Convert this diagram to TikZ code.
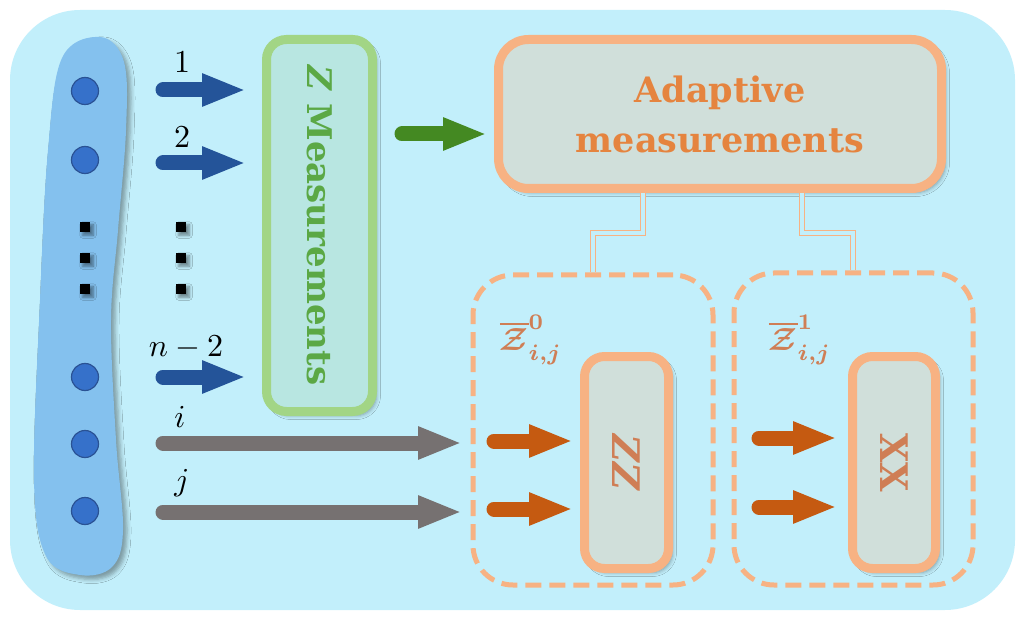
\documentclass[tikz,border=0pt]{standalone}
\usepackage{fontspec}
\usepackage{graphicx}
\usetikzlibrary{arrows.meta,shadows.blur}
\newfontfamily\dvs{DejaVu Serif}
\definecolor{bgc}{HTML}{C2EFFB}
\definecolor{blobc}{HTML}{84C1EE}
\definecolor{dotc}{HTML}{3671CA}
\definecolor{dotb}{HTML}{2A5294}
\definecolor{bluearr}{HTML}{245499}
\definecolor{grayarr}{HTML}{767171}
\definecolor{greenarr}{HTML}{448922}
\definecolor{greenb}{HTML}{A2D585}
\definecolor{greenf}{HTML}{B8E6E1}
\definecolor{greent}{HTML}{5BA845}
\definecolor{orb}{HTML}{F7B283}
\definecolor{orf}{HTML}{D0DFDA}
\definecolor{ort}{HTML}{E5843F}
\definecolor{orarr}{HTML}{C55A11}
\definecolor{lab}{HTML}{CF7E55}
\begin{document}
\begin{tikzpicture}[x=1pt,y=-1pt,
  shd/.style={blur shadow={shadow xshift=4pt,shadow yshift=-4pt,shadow blur radius=4pt,shadow opacity=35}},
  dotn/.style={circle,minimum size=27pt,inner sep=0pt,fill=dotc,draw=dotb,line width=1.2pt},
  sq/.style={rectangle,minimum size=10.5pt,inner sep=0pt,fill=black,blur shadow={shadow xshift=3pt,shadow yshift=-3pt,shadow blur radius=3pt,shadow opacity=45}},
  fat/.style={line width=15pt,line cap=round,-{Triangle[length=44pt,width=30pt]}},
  box/.style={rectangle,rounded corners=20pt,inner sep=0pt,line width=9pt,draw=orb,fill=orf,shd},
  dbox/.style={rectangle,rounded corners=40pt,inner sep=0pt,line width=5pt,draw=orb,dash pattern=on 16pt off 8pt},
  conn/.style={draw=orb,line width=1.6pt,double=bgc,double distance=3.5pt},
  zlab/.style={text=lab}
]
\useasboundingbox (0,0) rectangle (1025,620);
\fill[bgc,rounded corners=70pt] (10,10) rectangle (1015,610);
% blob
\fill[blobc,shd] plot[smooth cycle,tension=0.6] coordinates {(100,37) (124,62) (126,130) (118,230) (111,320) (116,440) (123,530) (112,567) (80,575) (46,556) (34,480) (40,300) (48,150) (62,58)};
% dots
\node[dotn] (d1) at (85,91) {};
\node[dotn] (d2) at (85,160) {};
\node[dotn] (d3) at (85,377) {};
\node[dotn] (d4) at (85,444) {};
\node[dotn] (d5) at (85,511) {};
% squares
\node[sq] (s1) at (85,227) {};
\node[sq] (s2) at (85,258) {};
\node[sq] (s3) at (85,289) {};
\node[sq] (s4) at (181,227) {};
\node[sq] (s5) at (181,258) {};
\node[sq] (s6) at (181,289) {};
% boxes
\node[dbox,minimum width=240pt,minimum height=310pt] (dl) at (593,430) {};
\node[dbox,minimum width=239pt,minimum height=312pt] (dr) at (853.5,429) {};
\node[box,rounded corners=30pt,minimum width=443pt,minimum height=149pt] (ad) at (720,114) {};
\draw[conn] (ad.south -| 643,0) -- ++(0,40) -| (dl.north -| 593,0);
\draw[conn] (ad.south -| 802,0) -- ++(0,40) -| (dr.north -| 853,0);
\node[box,draw=greenb,fill=greenf,minimum width=106pt,minimum height=372pt] (gb) at (319.5,225.5) {};
\node[box,minimum width=84pt,minimum height=212pt] (zz) at (626.5,462.5) {};
\node[box,minimum width=83pt,minimum height=212pt] (xx) at (894,462.5) {};
% texts
\node[rotate=-90,text=greent,font=\dvs\bfseries\fontsize{34}{38}\selectfont] (gt) at (gb.center) {\textit{Z} Measurements};
\node[text=ort,align=center,font=\dvs\bfseries\fontsize{35}{50}\selectfont] (at) at (ad.center) {Adaptive\\measurements};
\node[rotate=-90,text=lab,font=\dvs\bfseries\itshape\fontsize{38}{40}\selectfont] (zzt) at (zz.center) {ZZ};
\node[rotate=-90,text=lab,font=\dvs\bfseries\fontsize{38}{40}\selectfont] (xxt) at (xx.center) {XX};
\node[zlab] (z0) at (531,340) {\scalebox{3.2}{\boldmath$\overline{\mathcal{Z}}^{\mathbf{0}}_{i,j}$}};
\node[zlab] (z1) at (800,340) {\scalebox{3.2}{\boldmath$\overline{\mathcal{Z}}^{\mathbf{1}}_{i,j}$}};
% arrow coordinates
\coordinate (b1s) at (163,90); \coordinate (b1e) at (246,90);
\coordinate (b2s) at (163,163); \coordinate (b2e) at (246,163);
\coordinate (b3s) at (163,377); \coordinate (b3e) at (246,377);
\coordinate (g1s) at (163,443); \coordinate (g1e) at (462,443);
\coordinate (g2s) at (163,512); \coordinate (g2e) at (462,512);
\coordinate (grs) at (402,134); \coordinate (gre) at (487,134);
\coordinate (o1s) at (494,441); \coordinate (o1e) at (573,441);
\coordinate (o2s) at (494,509); \coordinate (o2e) at (573,509);
\coordinate (o3s) at (759,438); \coordinate (o3e) at (837,438);
\coordinate (o4s) at (759,507); \coordinate (o4e) at (837,507);
\draw[fat,bluearr] (b1s) -- (b1e);
\draw[fat,bluearr] (b2s) -- (b2e);
\draw[fat,bluearr] (b3s) -- (b3e);
\draw[fat,grayarr] (g1s) -- (g1e);
\draw[fat,grayarr] (g2s) -- (g2e);
\draw[fat,greenarr] (grs) -- (gre);
\draw[fat,orarr] (o1s) -- (o1e);
\draw[fat,orarr] (o2s) -- (o2e);
\draw[fat,orarr] (o3s) -- (o3e);
\draw[fat,orarr] (o4s) -- (o4e);
% labels
\node (l1) at (182,62) {\scalebox{3.2}{1}};
\node (l2) at (182,137) {\scalebox{3.2}{2}};
\node (l3) at (186,348) {\scalebox{3.2}{$n-2$}};
\node (li) at (180,417) {\scalebox{3.2}{$i$}};
\node (lj) at (182,483) {\scalebox{3.2}{$j$}};
\end{tikzpicture}
\end{document}
